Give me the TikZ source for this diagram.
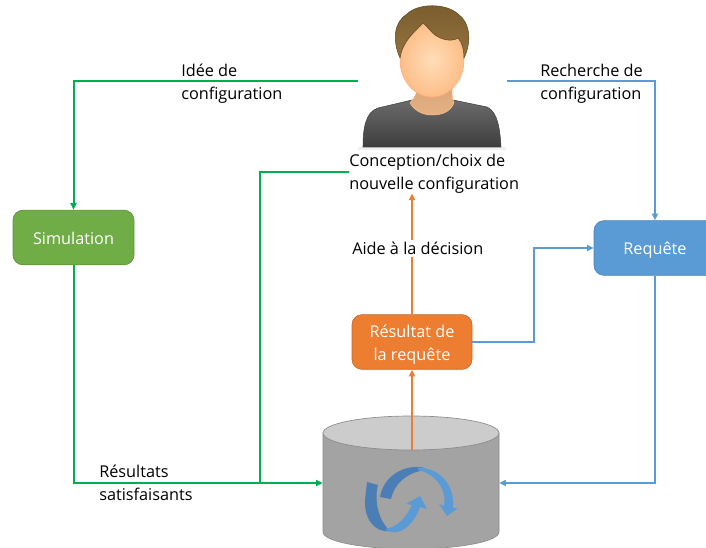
\documentclass[tikz,border=0pt]{standalone}
\usepackage{fontspec}
\setmainfont{Open Sans}
\usetikzlibrary{arrows.meta,calc}
\definecolor{cgreen}{HTML}{00B050}
\definecolor{cblue}{HTML}{5B9BD5}
\definecolor{corange}{HTML}{ED7D31}
\definecolor{simgreen}{HTML}{70AD47}
\definecolor{cdark}{HTML}{4A7EB5}
\definecolor{hairtop}{HTML}{7A5C2E}
\definecolor{hairbot}{HTML}{93733F}
\definecolor{faceinner}{HTML}{FFDDB8}
\definecolor{faceouter}{HTML}{FDBE88}
\definecolor{neckc}{HTML}{DCA679}
\tikzset{
  conn/.style={line width=1.5pt},
  tipped/.style={conn,-{Triangle[length=5pt,width=4.5pt]}},
  procbox/.style={draw=#1!85!black,fill=#1,rounded corners=7.5pt,minimum width=90pt,minimum height=41pt,inner sep=0pt,align=center,text=white,line width=0.5pt,font=\fontsize{12.2pt}{17.25pt}\selectfont},
  lbl/.style={align=left,inner sep=0pt,text=black,font=\fontsize{12.2pt}{17.25pt}\selectfont},
  ghost/.style={inner sep=0pt,draw=none}
}
\begin{document}
\begin{tikzpicture}[x=0.75pt,y=-0.75pt]
\useasboundingbox (0,0) rectangle (706,548);
% cylinder
\path[fill=black!36,draw=black!45,line width=0.5pt] (323,433) -- (323,532) arc[start angle=180,end angle=0,x radius=88,y radius=17] -- (499,433) -- cycle;
\path[fill=black!20,draw=black!45,line width=0.5pt] (411,433) ellipse[x radius=88,y radius=17];
\node[ghost,minimum width=132pt,minimum height=75pt] (db) at (411,483) {};
\coordinate (dbtop) at (412,450);
% cycle arrows
\fill[cdark] (367,482) -- (378,485) .. controls (374,500) and (378,520) .. (390,531) .. controls (374,533) and (364,518) .. (365,500) -- cycle;
\fill[cblue] (385,529) .. controls (396,528) and (406,518) .. (412,505) -- (406,504) -- (420,496) -- (427,509) -- (420,507) .. controls (415,522) and (403,534) .. (392,532) .. controls (389,532) and (387,531) .. (385,529) -- cycle;
\fill[cdark] (380,497) -- (391,499) .. controls (394,485) and (405,473) .. (425,470) -- (425,468) .. controls (404,463) and (383,477) .. (380,497) -- cycle;
\fill[cblue] (418,467.5) .. controls (440,468) and (455,485) .. (453,508) -- (458,508) -- (447,516) -- (439,504) -- (444,506) .. controls (447,490) and (436,474) .. (418,470) -- cycle;
% person
\fill[black!6] (358,147) rectangle (506,150);
\shade[top color=black!58,bottom color=black!76,draw=black!75,line width=0.4pt] (363,147) .. controls (363,130) and (365,112) .. (378,108) -- (412,100) -- (453,100) -- (487,107) .. controls (498,112) and (500,130) .. (501,147) -- cycle;
\shade[top color=neckc,bottom color=neckc!80!faceinner,draw=faceouter,line width=0.4pt] (410,103) .. controls (414,98) and (417,94) .. (417,88) -- (452,88) .. controls (452,94) and (452,98) .. (454,103) .. controls (450,112) and (442,115) .. (432,115) .. controls (422,115) and (414,110) .. (410,103) -- cycle;
\shade[inner color=faceinner,outer color=faceouter,draw=faceouter!90!red,line width=0.4pt] (432,60) ellipse[x radius=32,y radius=37];
\shade[top color=hairtop,bottom color=hairbot,draw=hairtop!80!black,line width=0.4pt] (400,58) .. controls (392,40) and (394,22) .. (407,14) .. controls (418,3) and (446,3) .. (458,14) .. controls (470,22) and (472,42) .. (464,58) .. controls (464,50) and (462,42) .. (458,38) .. controls (452,42) and (442,40) .. (435,35) .. controls (430,31) and (428,27) .. (423,23) .. controls (415,32) and (403,40) .. (400,58) -- cycle;
\node[ghost,minimum width=111.75pt,minimum height=112.5pt] (person) at (432.5,81) {};
% boxes
\node[procbox=simgreen,minimum width=90.75pt] (sim) at (73.5,237.5) {\rule{0pt}{11pt}Simulation};
\begin{scope}
\clip (0,0) rectangle (706,548);
\node[procbox=cblue,minimum width=91.5pt] (req) at (655,248) {\rule{0pt}{13pt}Requête};
\end{scope}
\node[procbox=corange] (res) at (412,342) {\rule{0pt}{14pt}Résultat de\\la requête};
% labels
\node[lbl,anchor=west] (concept) at (349,173.5) {Conception/choix de\\nouvelle configuration};
% connectors
\draw[tipped,cgreen] (person.west) -| (sim.north);
\draw[tipped,cgreen] (sim.south) |- (db.west);
\draw[conn,cgreen] (349,172) -| (260,483);
\draw[tipped,cblue] (person.east) -| (req.north);
\draw[tipped,cblue] (req.south) |- (db.east);
\draw[tipped,cblue] (res.east) -- ++(62,0) |- (req.west);
\draw[tipped,corange,line width=1.8pt] (dbtop) -- (res.south);
\draw[tipped,corange,line width=1.8pt] (res.north) -- (res.north |- concept.south);
\node[lbl,anchor=west,fill=white,inner ysep=2pt] (aide) at (352,248.5) {Aide à la décision};
\node[lbl,anchor=west] (idee) at (181,83.5) {Idée de\\configuration};
\node[lbl,anchor=west] (rech) at (540,83.5) {Recherche de\\configuration};
\node[lbl,anchor=west] (rs) at (99,483) {Résultats\\satisfaisants};
\end{tikzpicture}
\end{document}
